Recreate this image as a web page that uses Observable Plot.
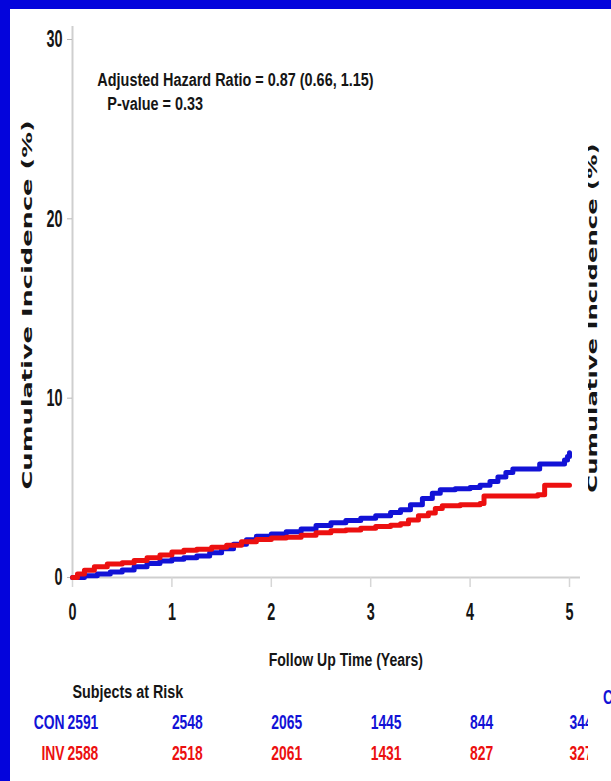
<!DOCTYPE html>
<html>
<head>
<meta charset="utf-8">
<script src="https://cdn.jsdelivr.net/npm/d3@7"></script>
<script src="https://cdn.jsdelivr.net/npm/@observablehq/plot@0.6"></script>
<style>
html, body { margin:0; padding:0; width:611px; height:781px; overflow:hidden; background:#0404dc; }
#panel { position:absolute; left:10px; top:9px; width:601px; height:772px; background:#fff; overflow:hidden; }
#chart { position:absolute; left:0; top:0; width:578px; height:772px; overflow:hidden; }
#side { position:absolute; left:578px; top:0; width:23px; height:772px; overflow:hidden; }
</style>
</head>
<body>
<div id="panel"><div id="chart"></div><div id="side"></div></div>
<script>
// ---- data ----
const years = [0, 1, 2, 3, 4, 5];
const yTicks = [0, 10, 20, 30];
const groups = ["CON", "INV"];

const conTime = [0.00,0.12,0.25,0.38,0.50,0.62,0.75,0.88,1.00,1.12,1.25,1.38,1.50,1.62,1.75,1.85,2.00,2.15,2.30,2.45,2.60,2.75,2.90,3.05,3.20,3.30,3.40,3.52,3.62,3.70,3.85,4.00,4.10,4.20,4.28,4.36,4.43,4.70,4.95,4.98,5.00];
const conInc  = [0.00,0.10,0.20,0.30,0.42,0.60,0.78,0.92,1.02,1.10,1.20,1.38,1.60,1.85,2.10,2.30,2.42,2.55,2.70,2.90,3.05,3.18,3.30,3.45,3.62,3.78,4.05,4.40,4.70,4.90,4.95,5.02,5.15,5.35,5.60,5.85,6.05,6.33,6.55,6.75,6.95];

const invTime = [0.00,0.05,0.12,0.22,0.35,0.50,0.62,0.75,0.88,1.00,1.12,1.25,1.40,1.55,1.70,1.85,2.00,2.15,2.30,2.45,2.60,2.75,2.90,3.05,3.20,3.30,3.38,3.48,3.58,3.65,3.72,3.90,4.10,4.14,4.68,4.75,5.00];
const invInc  = [0.00,0.20,0.40,0.60,0.75,0.82,0.95,1.10,1.25,1.42,1.52,1.58,1.68,1.80,2.00,2.12,2.20,2.25,2.35,2.50,2.60,2.65,2.75,2.85,2.92,3.00,3.20,3.45,3.60,3.85,4.00,4.05,4.12,4.55,4.62,5.15,5.15];

const conAtRisk = [2591, 2548, 2065, 1445, 844, 344];
const invAtRisk = [2588, 2518, 2061, 1431, 827, 327];

const hrText = "Adjusted Hazard Ratio = 0.87 (0.66, 1.15)";
const pText = "P-value = 0.33";
const xTitle = "Follow Up Time (Years)";
const yTitle = "Cumulative Incidence (%)";
const riskTitle = "Subjects at Risk";

// ---- build tables ----
const BLUE = "#1212d6", RED = "#ec1010";
const curves = [
  ...conTime.map((t, i) => ({t, v: conInc[i], g: "CON"})),
  ...invTime.map((t, i) => ({t, v: invInc[i], g: "INV"}))
];
const risk = [
  ...conAtRisk.map((n, i) => ({t: years[i], n, g: "CON"})),
  ...invAtRisk.map((n, i) => ({t: years[i], n, g: "INV"}))
];

const narrow = "Liberation Sans, Arial, sans-serif";
const tickFont = {fontFamily: narrow, fontWeight: "bold", fontSize: 24, fill: "#151515"};
const noteFont = {fontFamily: narrow, fontWeight: "bold", fontSize: 19, fill: "#151515"};
const rowFont = {fontFamily: narrow, fontWeight: "bold", fontSize: 21};
const rowDy = {CON: 145, INV: 176};

const rowMarks = groups.flatMap(g => [
  Plot.text([g], {x: 0, y: 0, dy: rowDy[g], dx: -8, textAnchor: "end", text: d => d, fill: d => d, ...rowFont}),
  Plot.text(risk.filter(d => d.g === g && d.t === 0), {x: "t", y: 0, dy: rowDy[g], dx: -5, textAnchor: "start", text: d => String(d.n), fill: "g", ...rowFont}),
  Plot.text(risk.filter(d => d.g === g && d.t > 0), {x: "t", y: 0, dy: rowDy[g], dx: 0, textAnchor: "start", text: d => String(d.n), fill: "g", ...rowFont})
]);

const plot = Plot.plot({
  width: 578, height: 772,
  marginLeft: 62, marginRight: 19, marginTop: 30, marginBottom: 204,
  x: {domain: [0, 5], label: null},
  y: {domain: [0, 30], label: null},
  color: {domain: groups, range: [BLUE, RED]},
  style: {background: "white"},
  marks: [
    Plot.ruleX([0], {stroke: "#cfcfcf", strokeWidth: 2, insetTop: -13}),
    Plot.ruleY([0], {stroke: "#cfcfcf", strokeWidth: 2, insetRight: -11}),
    Plot.axisX(years, {tickSize: 10, tickFormat: () => "", stroke: "#d6d6d6", strokeWidth: 1.5, label: null}),
    Plot.axisY(yTicks, {tickSize: 5, tickFormat: () => "", stroke: "#b8b8b8", label: null}),
    Plot.text(years, {x: d => d, y: 0, dy: 35, text: d => String(d), ...tickFont}),
    Plot.text(yTicks, {x: 0, y: d => d, dx: -10, textAnchor: "end", text: d => String(d), ...tickFont}),
    Plot.line(curves, {x: "t", y: "v", z: "g", stroke: "g", curve: "step-after", strokeWidth: 5}),
    Plot.text([hrText], {x: 0.25, y: 27.75, textAnchor: "start", text: d => d, ...noteFont}),
    Plot.text([pText], {x: 0.35, y: 26.4, textAnchor: "start", text: d => d, ...noteFont}),
    Plot.text([xTitle], {x: 2.75, y: 0, dy: 82, text: d => d, ...noteFont}),
    Plot.text([riskTitle], {x: 0, y: 0, dy: 114, dx: 0, textAnchor: "start", text: d => d, ...noteFont}),
    Plot.text([yTitle], {x: -0.453, y: 15.2, rotate: -90, text: d => d, fontFamily: "DejaVu Sans, sans-serif", fontWeight: "bold", fontSize: 25.7, fill: "#151515"}),
    ...rowMarks
  ]
});

// horizontal squash of the text, matching the narrow lettering of the picture
const squash = new Map();
[...years, ...yTicks].forEach(v => squash.set(String(v), [0.6, 1]));
[hrText, pText].forEach(s => squash.set(s, [0.76, 1]));
squash.set(xTitle, [0.74, 1]);
squash.set(riskTitle, [0.755, 1]);
[...groups, ...conAtRisk, ...invAtRisk].forEach(v => squash.set(String(v), [0.66, 1]));
squash.set(yTitle, [1, 0.55]);
d3.select(plot).selectAll("text").each(function () {
  const s = squash.get(this.textContent);
  if (!s) return;
  const t = this.getAttribute("transform") || "";
  this.setAttribute("transform", `${t} scale(${s[0]},${s[1]})`);
});

document.getElementById("chart").appendChild(plot);

// neighbouring panel, cut by the picture's right edge
const side = d3.select("#side").append("svg").attr("width", 23).attr("height", 772);
side.append("text")
  .attr("transform", "translate(4,309) rotate(-90) scale(1,0.55)")
  .attr("text-anchor", "middle").attr("dy", "0.35em")
  .attr("font-family", "DejaVu Sans, sans-serif").attr("font-weight", "bold")
  .attr("font-size", 24.3).attr("fill", "#151515")
  .text(yTitle);
side.append("text")
  .attr("transform", "translate(15,688) scale(0.66,1)")
  .attr("dy", "0.35em")
  .attr("font-family", narrow).attr("font-weight", "bold")
  .attr("font-size", 21).attr("fill", BLUE)
  .text(groups[0]);
</script>
</body>
</html>
